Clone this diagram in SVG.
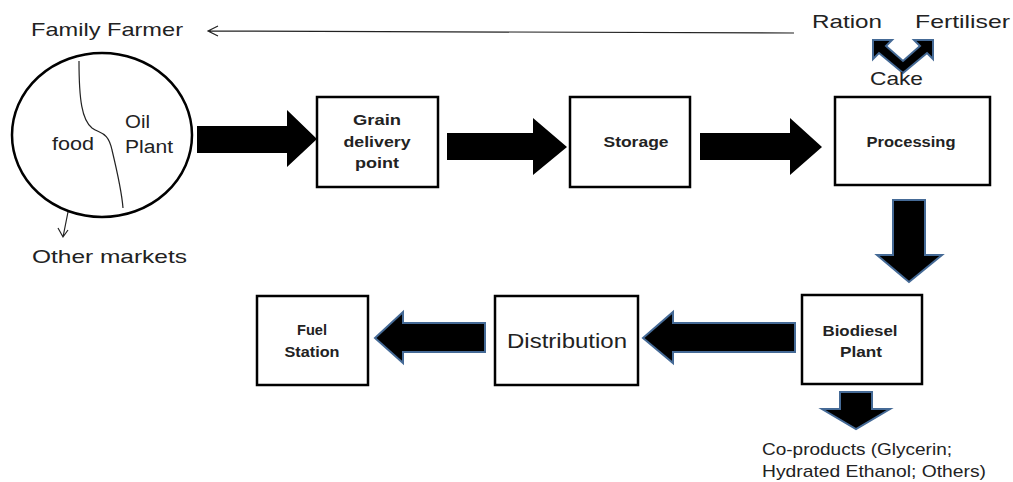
<svg xmlns="http://www.w3.org/2000/svg" width="1013" height="482" viewBox="0 0 1013 482">
<style>
text{font-family:"Liberation Sans",Arial,sans-serif;fill:#222}
.lbl{font-size:19px}
.bx{font-size:14px;font-weight:bold;text-anchor:middle}
.box{fill:#fff;stroke:#000;stroke-width:2.5}
.blk{fill:#000}
.blu{fill:#000;stroke:#456a96;stroke-width:2;stroke-linejoin:miter}
.thin{fill:none;stroke:#222;stroke-width:1.2}
</style>
<rect width="1013" height="482" fill="#fff"/>
<g id="connectors">
<path class="thin" d="M794,33 L208,31 M218,26 L208,31 L218,36"/>
<path class="thin" d="M70,202 L63,237 M58,228 L63,237 L68,230"/>
<polygon class="blk" points="197,126 287,126 287,110 317,139 287,167 287,153 197,153"/>
<polygon class="blk" points="447,133 533,133 533,118 567,147 533,175 533,160 447,160"/>
<polygon class="blk" points="700,133 790,133 790,118 822,147 790,175 790,160 700,160"/>
<polygon class="blu" points="893,200 925,200 925,255 942,255 909,282 877,255 893,255"/>
<polygon class="blu" points="840,392 872,392 872,409 890,409 856,429 822,409 840,409"/>
<polygon class="blu" points="795,323 673,323 673,312 643,338 673,363 673,352 795,352"/>
<polygon class="blu" points="485,323 403,323 403,312 375,338 403,363 403,352 485,352"/>
<polygon class="blu" points="873,40 892,40 886,46 903,61 920,46 914,40 933,40 933,59 927,53 903,73 879,53 873,59"/>
</g>
<g id="farmer">
<ellipse cx="102" cy="135" rx="90" ry="82" fill="#fff" stroke="#000" stroke-width="2.5"/>
<path class="thin" d="M79,61 C79,100 82,120 92,128 C100,134 108,131 112,150 C118,175 122,195 123,208"/>
<text x="52" y="150" font-size="18" textLength="42" lengthAdjust="spacingAndGlyphs">food</text>
<text x="125" y="128" font-size="18" textLength="25" lengthAdjust="spacingAndGlyphs">Oil</text>
<text x="125" y="153" font-size="18" textLength="48" lengthAdjust="spacingAndGlyphs">Plant</text>
</g>
<g id="labels">
<text class="lbl" x="31" y="36" textLength="152" lengthAdjust="spacingAndGlyphs">Family Farmer</text>
<text class="lbl" x="32" y="263" textLength="155" lengthAdjust="spacingAndGlyphs">Other markets</text>
<text class="lbl" x="812" y="28" textLength="70" lengthAdjust="spacingAndGlyphs">Ration</text>
<text class="lbl" x="915" y="28" textLength="95" lengthAdjust="spacingAndGlyphs">Fertiliser</text>
<text class="lbl" x="870" y="85" textLength="53" lengthAdjust="spacingAndGlyphs">Cake</text>
<text x="762" y="455" font-size="17" textLength="190" lengthAdjust="spacingAndGlyphs">Co-products (Glycerin;</text>
<text x="762" y="477" font-size="17" textLength="224" lengthAdjust="spacingAndGlyphs">Hydrated Ethanol; Others)</text>
</g>
<g id="grain">
<rect class="box" x="317" y="97" width="121" height="90"/>
<text class="bx" x="377" y="125" textLength="48" lengthAdjust="spacingAndGlyphs">Grain</text>
<text class="bx" x="377" y="147" textLength="67" lengthAdjust="spacingAndGlyphs">delivery</text>
<text class="bx" x="377" y="168" textLength="44" lengthAdjust="spacingAndGlyphs">point</text>
</g>
<g id="storage">
<rect class="box" x="570" y="97" width="120" height="90"/>
<text class="bx" x="636" y="147" textLength="65" lengthAdjust="spacingAndGlyphs">Storage</text>
</g>
<g id="processing">
<rect class="box" x="835" y="97" width="155" height="88"/>
<text class="bx" x="911" y="147" textLength="89" lengthAdjust="spacingAndGlyphs">Processing</text>
</g>
<g id="biodiesel">
<rect class="box" x="802" y="295" width="120" height="89"/>
<text class="bx" x="860" y="336" textLength="75" lengthAdjust="spacingAndGlyphs">Biodiesel</text>
<text class="bx" x="861" y="357" textLength="42" lengthAdjust="spacingAndGlyphs">Plant</text>
</g>
<g id="distribution">
<rect class="box" x="495" y="296" width="143" height="89"/>
<text x="567" y="348" font-size="21" text-anchor="middle" textLength="120" lengthAdjust="spacingAndGlyphs">Distribution</text>
</g>
<g id="fuel">
<rect class="box" x="257" y="296" width="111" height="89"/>
<text class="bx" x="312" y="335" textLength="30" lengthAdjust="spacingAndGlyphs">Fuel</text>
<text class="bx" x="312" y="357" textLength="55" lengthAdjust="spacingAndGlyphs">Station</text>
</g>
</svg>
